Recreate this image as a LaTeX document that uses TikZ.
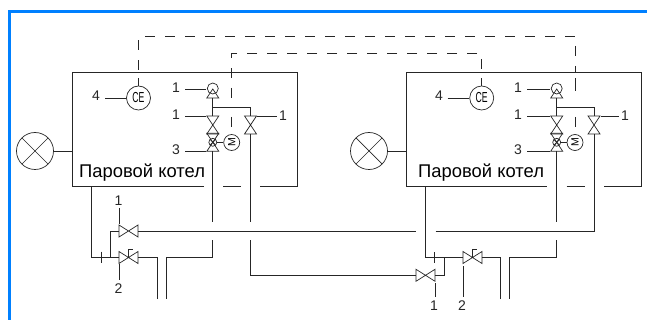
\documentclass[tikz,border=0pt]{standalone}
\usepackage{fontspec}
\setmainfont{Liberation Sans}
\definecolor{ink}{HTML}{262626}
\definecolor{frame}{HTML}{0080FF}
\tikzset{
  x=1pt,y=-1pt,
  ln/.style={draw=ink,line width=0.85pt},
  dsh/.style={ln,dash pattern=on 10pt off 10pt},
  sym/.style={draw=ink,line width=0.7pt},
  num/.style={text=ink,font=\fontsize{14}{14}\selectfont,inner sep=0pt},
  title/.style={text=black,font=\fontsize{18.4}{18}\selectfont,inner sep=0pt,anchor=base west},
  ce/.style={circle,sym,minimum size=24pt,inner sep=0pt,font=\fontsize{14.5}{14}\selectfont},
  motor/.style={circle,sym,minimum size=16pt,inner sep=0pt},
  burner/.style={circle,sym,minimum size=37pt,inner sep=0pt,path picture={
    \draw[sym] (path picture bounding box.center)++(-13.2,-13.2) -- ++(26.4,26.4);
    \draw[sym] (path picture bounding box.center)++(13.2,-13.2) -- ++(-26.4,26.4);}},
  gauge/.style={circle,sym,minimum size=11pt,inner sep=0pt},
  hvalve/.pic={\draw[sym] (-9.5,-6) -- (9.5,6) -- (9.5,-6) -- (-9.5,6) -- cycle;},
  vvalve/.pic={\draw[sym] (-6,-9) -- (6,9) -- (-6,9) -- (6,-9) -- cycle;},
  gate/.pic={\draw[sym] (0,0) -- (0,-8) -- (4,-8);},
  tri/.pic={\draw[sym] (0,-4.5) -- (6,4.5) -- (-6,4.5) -- cycle;},
  mixer/.pic={\draw[sym] (0,0) circle (4pt);\draw[sym] (-2.8,-2.8) -- (2.8,2.8) (2.8,-2.8) -- (-2.8,2.8);},
}
\newcommand{\motortext}{\rotatebox{90}{\fontsize{10.5}{10}\selectfont M}}
\newcommand{\cetext}{\scalebox{.6}[1]{CE}}
\begin{document}
\begin{tikzpicture}
\useasboundingbox (0,0) rectangle (647,320);
\fill[white] (0,0) rectangle (647,320);
\fill[frame] (8,10) rectangle (647,13);
\fill[frame] (8,10) rectangle (11,320);

% left boiler
\draw[ln] (204,186.5) -- (72.5,186.5) -- (72.5,72) -- (297,72) -- (297,186.5) -- (260,186.5);
\draw[ln] (223,186.5) -- (241,186.5);
\node[title] at (79,178) {Паровой котел};
\node[burner] (bL) at (35,151) {};
\coordinate (bLe) at (72.5,151);
\draw[ln] (bL) -- (bLe);
\node[ce] (ceL) at (138.5,98) {\cetext};
\node[num] (n4L) at (96,96) {4};
\draw[ln] (105,98) -- (ceL);
\node[gauge] (gL) at (212.8,88.5) {};
\pic at (212.8,93.5) {tri};
\node[num] at (176,88) {1};
\draw[ln] (185,89) -- (206,89);
\node[num] at (176,115) {1};
\draw[ln] (185,116) -- (206,116);
\node[num] at (176,150) {3};
\draw[ln] (185,151) -- (206,151);
\node[num] at (283,116) {1};
\draw[ln] (257,116) -- (277,116);
\pic at (212.8,125) {vvalve};
\pic at (212.8,142.3) {vvalve};
\pic at (212.8,142.3) {mixer};
\pic at (250.5,125) {vvalve};
\node[motor] (mL) at (231.7,142.5) {\motortext};
\draw[ln] (216.8,142.5) -- (mL);
\draw[ln] (212.8,98) -- (212.8,116);
\draw[ln] (212.8,107.5) -- (250.5,107.5) -- (250.5,116);
\draw[ln] (212.8,151.5) -- (212.8,221.7);
\draw[ln] (250.5,134) -- (250.5,221.7);
\draw[ln] (212.8,240) -- (212.8,257.5) -- (166,257.5) -- (166,299);
\draw[ln] (157,299) -- (157,257.5) -- (138,257.5);
\draw[ln] (250.5,240) -- (250.5,275.3) -- (416,275.3);
\draw[ln] (91.5,186.5) -- (91.5,257.5) -- (119,257.5);
\draw[ln] (101,251.5) -- (101,263);
\draw[ln] (110,257.5) -- (110,231) -- (119,231);
\pic at (128.5,231) {hvalve};
\pic at (128.5,257.5) {hvalve};
\pic at (128.5,257.5) {gate};
\node[num] at (118.5,201) {1};
\draw[ln] (119,208) -- (119,224);
\node[num] at (118.5,288.5) {2};
\draw[ln] (119,264) -- (119,280);
\draw[ln] (138,231) -- (415.7,231);
\draw[ln] (435.7,231) -- (594,231) -- (594,134);

% right boiler
\draw[ln] (546.7,186.5) -- (406.7,186.5) -- (406.7,72) -- (641,72) -- (641,186.5) -- (604,186.5);
\draw[ln] (566.7,186.5) -- (585,186.5);
\node[title] at (418,178) {Паровой котел};
\node[burner] (bR) at (369,151) {};
\coordinate (bRe) at (406.7,151);
\draw[ln] (bR) -- (bRe);
\node[ce] (ceR) at (481.7,98) {\cetext};
\node[num] at (439,96) {4};
\draw[ln] (447.5,98) -- (ceR);
\node[gauge] (gR) at (556.7,88.5) {};
\pic at (556.7,93.5) {tri};
\node[num] at (518,88) {1};
\draw[ln] (527,89) -- (550,89);
\node[num] at (518,115) {1};
\draw[ln] (527,116) -- (550,116);
\node[num] at (518,150) {3};
\draw[ln] (527,151) -- (550,151);
\node[num] at (625,116) {1};
\draw[ln] (601,116) -- (619,116);
\pic at (556.7,125) {vvalve};
\pic at (556.7,142.3) {vvalve};
\pic at (556.7,142.3) {mixer};
\pic at (594,125) {vvalve};
\node[motor] (mR) at (575,142.5) {\motortext};
\draw[ln] (560.7,142.5) -- (mR);
\draw[ln] (556.7,98) -- (556.7,116);
\draw[ln] (556.7,107.5) -- (594,107.5) -- (594,116);
\draw[ln] (556.7,151.5) -- (556.7,221.7);
\draw[ln] (556.7,240) -- (556.7,257.5) -- (509.3,257.5) -- (509.3,299);
\draw[ln] (500.7,299) -- (500.7,257.5) -- (482,257.5);
\draw[ln] (425.7,186.5) -- (425.7,257.5) -- (463,257.5);
\draw[ln] (434.7,252) -- (434.7,263);
\draw[ln] (435,275.3) -- (444.3,275.3) -- (444.3,257.5);
\pic at (425.5,275.3) {hvalve};
\pic at (472.5,257.5) {hvalve};
\pic at (472.5,257.5) {gate};
\draw[ln] (435,283) -- (435,297);
\node[num] at (434,306) {1};
\draw[ln] (463,266) -- (463,297);
\node[num] at (462,306) {2};

% dashed signal lines
\draw[ln] (ceL.north) -- (138.5,78);
\draw[dsh] (138.5,70) -- (138.5,36.5) -- (575.7,36.5) -- (575.7,72);
\draw[ln] (575.7,78) -- (575.7,91);
\draw[ln] (575.7,117) -- (575.7,127);
\draw[ln] (ceR.north) -- (481.7,78);
\draw[dsh] (481.7,69) -- (481.7,53.7) -- (231.7,53.7) -- (231.7,78);
\draw[ln] (231.7,88) -- (231.7,98);
\draw[ln] (231.7,117) -- (231.7,127);
\end{tikzpicture}
\end{document}
